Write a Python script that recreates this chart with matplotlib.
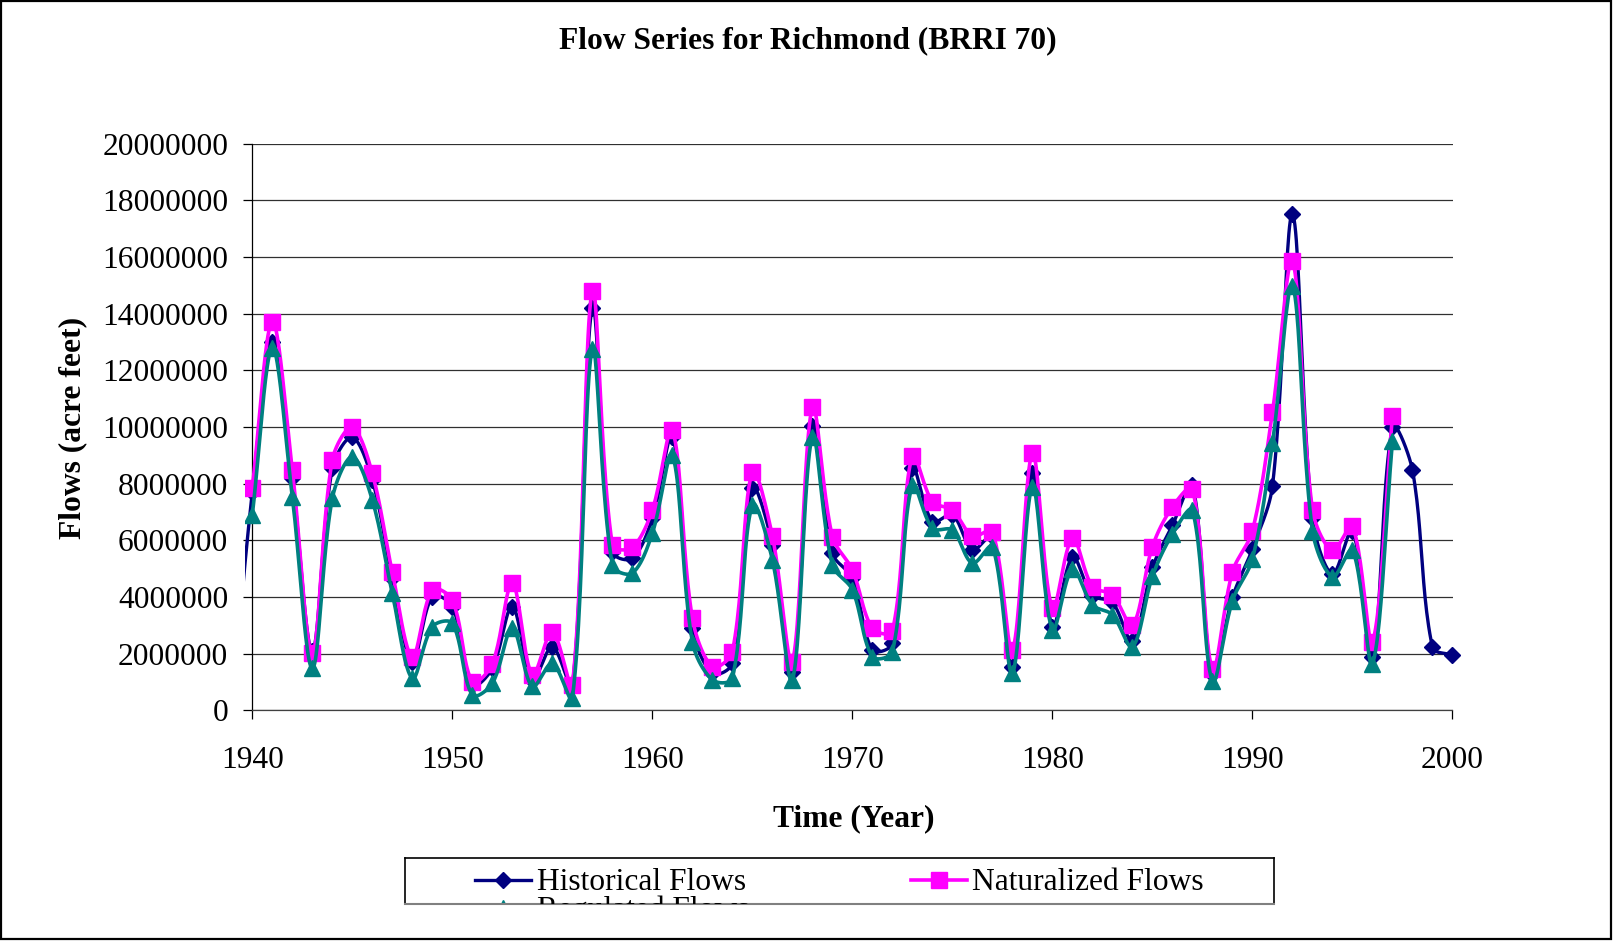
import numpy as np
import matplotlib
matplotlib.use("Agg")
import matplotlib.pyplot as plt
from matplotlib.patches import Rectangle
from matplotlib.ticker import MultipleLocator, FuncFormatter
from matplotlib.transforms import Bbox, TransformedBbox

plt.rcParams['font.family'] = ['Liberation Serif', 'DejaVu Serif']

# flows in acre feet (millions)
hist_years = list(range(1939, 2001))
hist_flows = [0.3, 7.7, 13.0, 8.2, 2.1, 8.54, 9.64, 8.13, 4.66, 1.72,
              4.01, 3.66, 0.89, 1.48, 3.66, 1.07, 2.25, 0.85, 14.19, 5.6,
              5.36, 6.78, 9.66, 2.89, 1.3, 1.66, 7.84, 5.84, 1.36, 10.04,
              5.54, 4.66, 2.13, 2.36, 8.54, 6.66, 6.9, 5.66, 6.15, 1.54,
              8.39, 2.95, 5.41, 4.05, 3.81, 2.45, 5.04, 6.53, 7.95, 1.27,
              3.99, 5.7, 7.92, 17.5, 6.77, 4.8, 6.34, 1.87, 9.99, 8.47,
              2.22, 1.95]

nat_years = list(range(1940, 1998))
nat_flows = [7.86, 13.72, 8.48, 2.01, 8.84, 9.99, 8.36, 4.87, 1.89, 4.25,
             3.89, 1.01, 1.64, 4.48, 1.25, 2.78, 0.89, 14.81, 5.84, 5.75,
             7.07, 9.89, 3.25, 1.54, 2.07, 8.42, 6.15, 1.72, 10.69, 6.13,
             4.95, 2.89, 2.8, 8.99, 7.36, 7.07, 6.15, 6.31, 2.13, 9.07,
             3.6, 6.07, 4.36, 4.08, 3.0, 5.78, 7.18, 7.82, 1.46, 4.89,
             6.34, 10.52, 15.86, 7.08, 5.64, 6.49, 2.41, 10.4]

reg_years = list(range(1940, 1998))
reg_flows = [6.9, 12.8, 7.54, 1.48, 7.48, 8.95, 7.42, 4.13, 1.13, 2.95,
             3.07, 0.54, 0.95, 2.89, 0.84, 1.66, 0.42, 12.75, 5.13, 4.84,
             6.25, 9.01, 2.42, 1.07, 1.13, 7.25, 5.31, 1.07, 9.66, 5.13,
             4.25, 1.89, 2.07, 7.95, 6.42, 6.36, 5.19, 5.78, 1.31, 7.89,
             2.84, 4.98, 3.72, 3.37, 2.24, 4.73, 6.22, 7.06, 1.03, 3.87,
             5.35, 9.43, 14.99, 6.34, 4.71, 5.66, 1.64, 9.49]

labels = ['Historical Flows', 'Naturalized Flows', 'Regulated Flows']
colors = ['#000080', '#FF00FF', '#008080']


def smooth(x, y, n=24, sx=20.0, sy=28.33):
    # bezier smoothing weighted by chord length (like excel's smoothed line)
    # sx, sy: rough pixels per year / per million so chords are measured on screen
    P = np.column_stack([np.asarray(x, float) * sx, np.asarray(y, float) * sy])
    Q = np.vstack([P[:1], P, P[-1:]])
    t = np.linspace(0, 1, n, endpoint=False)[:, None]
    pts = []
    for i in range(1, len(Q) - 2):
        p0, p1, p2, p3 = Q[i - 1], Q[i], Q[i + 1], Q[i + 2]
        d01 = np.hypot(*(p1 - p0))
        d12 = np.hypot(*(p2 - p1))
        d23 = np.hypot(*(p3 - p2))
        c1 = p1 + (p2 - p0) * d12 / (3 * (d01 + d12))
        c2 = p2 - (p3 - p1) * d12 / (3 * (d12 + d23))
        pts.append((1 - t)**3 * p1 + 3 * (1 - t)**2 * t * c1
                   + 3 * (1 - t) * t**2 * c2 + t**3 * p2)
    pts.append(P[-1:])
    pts = np.vstack(pts)
    return pts[:, 0] / sx, pts[:, 1] / sy * 1e6, [i * n for i in range(len(P))]


W, H = 1613, 941
FS = 22.7


def fx(px):
    return px / W


def fy(py):
    return 1 - py / H


fig = plt.figure(figsize=(W / 100, H / 100), dpi=100)
ax = fig.add_axes([fx(252.3), fy(710.3), (1452.5 - 252.3) / W, (710.3 - 143.6) / H])

styles = [dict(marker='D', ms=8.6, lw=2.4),
          dict(marker='s', ms=11, lw=2.6),
          dict(marker='^', ms=12, lw=2.6)]
series = [(hist_years, hist_flows), (nat_years, nat_flows), (reg_years, reg_flows)]

for (xv, yv), c, st in zip(series, colors, styles):
    xs, ys, idx = smooth(xv, yv)
    ln, = ax.plot(xs, ys, color=c, lw=st['lw'], marker=st['marker'], ms=st['ms'],
                  mfc=c, mec=c, mew=1, markevery=idx, zorder=3)
    ln.set_clip_box(TransformedBbox(Bbox([[1939.66, -1e6], [2001, 21e6]]), ax.transData))

ax.set_xlim(1940, 2000)
ax.set_ylim(0, 20e6)
ax.xaxis.set_major_locator(MultipleLocator(10))
ax.yaxis.set_major_locator(MultipleLocator(2e6))
ax.yaxis.set_major_formatter(FuncFormatter(lambda v, p: f'{int(round(v))}'))
ax.yaxis.grid(True, color='#303030', lw=0.9)
ax.set_axisbelow(True)
for s in ['top', 'right']:
    ax.spines[s].set_visible(False)
ax.spines['left'].set_color('black')
ax.spines['bottom'].set_color('#404040')
ax.spines['left'].set_linewidth(0.9)
ax.spines['bottom'].set_linewidth(0.9)
ax.tick_params(direction='out', length=6.8, width=0.9, labelsize=FS)
ax.tick_params(axis='x', pad=19)
ax.tick_params(axis='y', pad=10.5)

fig.text(fx(807.5), fy(48), 'Flow Series for Richmond (BRRI 70)', ha='center',
         va='baseline', fontsize=FS, fontweight='bold')
fig.text(fx(80), fy(428), 'Flows (acre feet)', rotation=90, rotation_mode='anchor',
         ha='center', va='baseline', fontsize=FS, fontweight='bold')
fig.text(fx(854), fy(826.7), 'Time (Year)', ha='center', va='baseline',
         fontsize=FS, fontweight='bold')

# legend box, cut off at the bottom like the original
lx0, lx1, ly0, ly1 = 405.3, 1273.7, 858.3, 903.5
lax = fig.add_axes([fx(lx0), fy(ly1), (lx1 - lx0) / W, (ly1 - ly0) / H])
lax.set_xlim(lx0, lx1)
lax.set_ylim(ly1, ly0)
lax.set_xticks([])
lax.set_yticks([])
for s in ['top', 'left', 'right']:
    lax.spines[s].set_color('black')
    lax.spines[s].set_linewidth(1.2)
lax.spines['bottom'].set_color('#808080')
lax.spines['bottom'].set_linewidth(1.5)

entries = [(475.3, 880, 537.0), (910.8, 880, 972.0), (475.3, 908, 537.0)]
for (hx, hy, tx), lab, c, st in zip(entries, labels, colors, styles):
    lax.plot([hx, hx + 28, hx + 56], [hy, hy, hy], color=c, lw=st['lw'],
             marker=st['marker'], ms=st['ms'], mfc=c, mec=c, mew=1, markevery=[1])
    lax.text(tx, hy + 10, lab, fontsize=FS, va='baseline', ha='left', clip_on=True)

fig.patches.append(Rectangle((fx(1), fy(938.5)), 1610 / W, 937.5 / H,
                             transform=fig.transFigure, fill=False,
                             ec='black', lw=1.6))

fig.savefig('out.png', dpi=100)
